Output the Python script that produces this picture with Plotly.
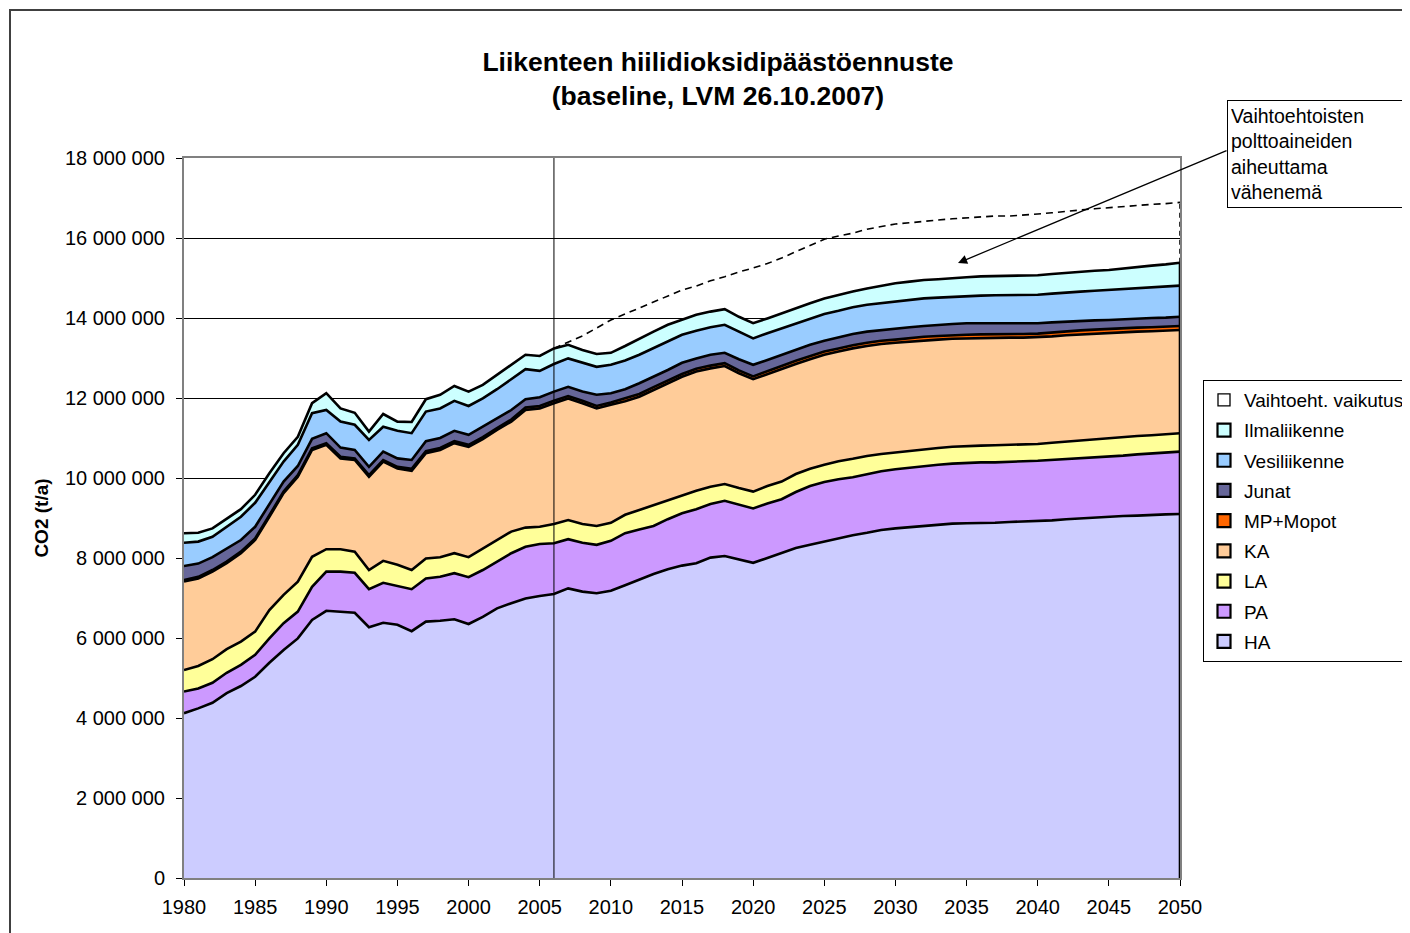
import numpy as np
import plotly.graph_objects as go

# ---------------- data (million tonnes CO2 per year) ----------------
years = list(range(1980, 2051))

HA = [4.12, 4.24, 4.38, 4.62, 4.80, 5.03, 5.38, 5.70, 5.99, 6.45,
      6.68, 6.66, 6.63, 6.27, 6.38, 6.33, 6.17, 6.41, 6.43, 6.47,
      6.35, 6.53, 6.74, 6.87, 6.99, 7.05, 7.10, 7.24, 7.16, 7.12,
      7.18, 7.32, 7.46, 7.60, 7.72, 7.81, 7.87, 8.01, 8.05, 7.96,
      7.88, 8.00, 8.12, 8.25, 8.33, 8.41, 8.50, 8.57, 8.63, 8.70,
      8.74, 8.77, 8.80, 8.83, 8.86, 8.87, 8.87, 8.88, 8.90, 8.91,
      8.92, 8.94, 8.97, 8.99, 9.02, 9.04, 9.05, 9.06, 9.08, 9.09, 9.10]

PA = [0.54, 0.50, 0.50, 0.51, 0.53, 0.55, 0.61, 0.67, 0.67, 0.83,
      0.98, 1.00, 1.00, 0.95, 1.00, 0.97, 1.05, 1.08, 1.10, 1.15,
      1.17, 1.17, 1.17, 1.25, 1.29, 1.30, 1.27, 1.23, 1.22, 1.21,
      1.25, 1.30, 1.25, 1.20, 1.25, 1.31, 1.35, 1.34, 1.38, 1.37,
      1.36, 1.36, 1.35, 1.40, 1.47, 1.49, 1.47, 1.45, 1.47, 1.47,
      1.48, 1.49, 1.50, 1.50, 1.50, 1.51, 1.52, 1.51, 1.51, 1.51,
      1.51, 1.51, 1.50, 1.50, 1.49, 1.49, 1.51, 1.53, 1.53, 1.55, 1.56]

LA = [0.54, 0.56, 0.59, 0.59, 0.58, 0.58, 0.71, 0.71, 0.75, 0.75,
      0.56, 0.56, 0.53, 0.48, 0.55, 0.53, 0.48, 0.50, 0.49, 0.50,
      0.50, 0.54, 0.54, 0.54, 0.48, 0.43, 0.48, 0.48, 0.47, 0.47,
      0.45, 0.46, 0.49, 0.52, 0.48, 0.45, 0.46, 0.43, 0.42, 0.42,
      0.42, 0.44, 0.44, 0.45, 0.43, 0.43, 0.45, 0.46, 0.45, 0.43,
      0.42, 0.42, 0.42, 0.42, 0.42, 0.42, 0.42, 0.43, 0.42, 0.42,
      0.42, 0.43, 0.44, 0.45, 0.45, 0.46, 0.46, 0.46, 0.46, 0.46, 0.46]

KA = [2.21, 2.19, 2.19, 2.15, 2.21, 2.29, 2.33, 2.54, 2.62, 2.67,
      2.61, 2.27, 2.29, 2.33, 2.48, 2.41, 2.48, 2.63, 2.68, 2.75,
      2.76, 2.73, 2.75, 2.75, 2.94, 2.96, 3.02, 3.04, 3.02, 2.94,
      2.95, 2.84, 2.83, 2.88, 2.92, 2.96, 2.98, 2.96, 2.95, 2.87,
      2.81, 2.80, 2.81, 2.75, 2.74, 2.75, 2.74, 2.76, 2.75, 2.75,
      2.74, 2.73, 2.72, 2.71, 2.70, 2.69, 2.69, 2.68, 2.68, 2.67,
      2.67, 2.66, 2.66, 2.65, 2.65, 2.64, 2.62, 2.61, 2.60, 2.59, 2.58]

MP = [0.04] * 16 + [0.05] * 8 + [0.06] * 7 + [0.07] * 10 + [0.08] * 10 + [0.09] * 10 + [0.10] * 10

JUNAT = [0.35, 0.33, 0.32, 0.32, 0.29, 0.29, 0.26, 0.25, 0.23, 0.24,
         0.25, 0.23, 0.21, 0.21, 0.21, 0.21, 0.22, 0.25, 0.25, 0.26,
         0.25, 0.26, 0.24, 0.24, 0.21, 0.22, 0.23, 0.23, 0.23, 0.28,
         0.23, 0.23, 0.27, 0.26, 0.26, 0.28, 0.26, 0.27, 0.26, 0.28,
         0.29, 0.27, 0.28, 0.27, 0.28, 0.27, 0.28, 0.28, 0.28, 0.27,
         0.28, 0.27, 0.27, 0.28, 0.28, 0.29, 0.28, 0.28, 0.27, 0.27,
         0.26, 0.25, 0.24, 0.23, 0.23, 0.22, 0.23, 0.22, 0.23, 0.22, 0.23]

VESI = [0.58, 0.55, 0.51, 0.55, 0.58, 0.60, 0.58, 0.50, 0.53, 0.64,
        0.58, 0.65, 0.63, 0.67, 0.62, 0.69, 0.67, 0.74, 0.74, 0.75,
        0.72, 0.71, 0.73, 0.77, 0.75, 0.66, 0.69, 0.71, 0.72, 0.70,
        0.71, 0.72, 0.71, 0.71, 0.71, 0.70, 0.69, 0.69, 0.70, 0.69,
        0.66, 0.67, 0.66, 0.67, 0.66, 0.67, 0.66, 0.67, 0.67, 0.67,
        0.67, 0.68, 0.69, 0.68, 0.68, 0.68, 0.69, 0.70, 0.70, 0.71,
        0.71, 0.72, 0.73, 0.74, 0.74, 0.75, 0.75, 0.76, 0.76, 0.78, 0.78]

ILMA = [0.24, 0.22, 0.21, 0.21, 0.19, 0.20, 0.21, 0.21, 0.20, 0.25,
        0.42, 0.33, 0.30, 0.21, 0.32, 0.23, 0.28, 0.31, 0.34, 0.37,
        0.36, 0.34, 0.36, 0.36, 0.36, 0.37, 0.39, 0.34, 0.32, 0.32,
        0.30, 0.36, 0.41, 0.42, 0.42, 0.37, 0.40, 0.39, 0.39, 0.37,
        0.38, 0.37, 0.38, 0.37, 0.38, 0.39, 0.40, 0.39, 0.41, 0.43,
        0.46, 0.46, 0.46, 0.46, 0.47, 0.47, 0.48, 0.48, 0.49, 0.48,
        0.49, 0.49, 0.49, 0.50, 0.50, 0.50, 0.52, 0.54, 0.55, 0.55, 0.57]

# reduction caused by alternative fuels (from 2006 on)
VAIHT = [0.0] * 26 + [0.00, 0.07, 0.35, 0.65,
         0.82, 0.80, 0.76, 0.75, 0.73, 0.75, 0.72, 0.77, 0.81, 1.12,
         1.38, 1.37, 1.38, 1.41, 1.43, 1.48, 1.47, 1.46, 1.48, 1.48,
         1.48, 1.47, 1.47, 1.48, 1.48, 1.48, 1.49, 1.50, 1.49, 1.51,
         1.53, 1.53, 1.54, 1.54, 1.55, 1.56, 1.55, 1.54, 1.53, 1.52, 1.51]

UNIT = 1e6
DIVIDER_YEAR = 2006
DASH_START = 2006

series = [
    ("HA", HA, "#CCCCFF"),
    ("PA", PA, "#CC99FF"),
    ("LA", LA, "#FFFF99"),
    ("KA", KA, "#FFCC99"),
    ("MP+Mopot", MP, "#FF6600"),
    ("Junat", JUNAT, "#666699"),
    ("Vesiliikenne", VESI, "#99CCFF"),
    ("Ilmaliikenne", ILMA, "#CCFFFF"),
]

FONT = "Arial, Liberation Sans, sans-serif"

fig = go.Figure()
for name, vals, color in series:
    fig.add_trace(go.Scatter(
        x=years, y=[v * UNIT for v in vals], name=name,
        stackgroup="one", mode="lines",
        line=dict(color="black", width=2.6),
        fillcolor=color, showlegend=False,
    ))

total = np.sum([np.array(v) for _, v, _ in series], axis=0) * UNIT
with_alt = total + np.array(VAIHT) * UNIT
i0 = years.index(DASH_START)

fig.add_trace(go.Scatter(
    x=years[i0:], y=with_alt[i0:], name="Vaihtoeht. vaikutus", mode="lines",
    line=dict(color="black", width=1.6, dash="7px,5px"), showlegend=False,
))
# closing edges of the stacked polygon
fig.add_trace(go.Scatter(x=[years[-1], years[-1]], y=[0, total[-1]], mode="lines",
                         line=dict(color="black", width=2.6), showlegend=False, hoverinfo="skip"))
fig.add_trace(go.Scatter(x=[years[-1], years[-1]], y=[total[-1], with_alt[-1]], mode="lines",
                         line=dict(color="black", width=1.6, dash="5px,4px"), showlegend=False,
                         hoverinfo="skip"))

# legend entries (square swatches like the original), top entry first
fig.add_trace(go.Scatter(
    x=[None], y=[None], mode="markers", name="Vaihtoeht. vaikutus", legendgroup="vaiht",
    marker=dict(symbol="square-open", size=12, color="black", line=dict(width=1.3)),
))
for name, vals, color in reversed(series):
    fig.add_trace(go.Scatter(
        x=[None], y=[None], mode="markers", name=name, legendgroup=name,
        marker=dict(symbol="square", size=13, color=color, line=dict(color="black", width=2.2)),
    ))

# page body has an 8px margin -> figure coordinates = reference pixels - 8
OFF = 8
W, H = 1410 - OFF, 933 - OFF
L, T = 184 - OFF, 158 - OFF
R = W - (1180 - OFF)
B = H - (878 - OFF)
pw, ph = W - L - R, H - T - B


def px_x(x):
    return (x - OFF - L) / pw


def px_y(y):
    return (H - B - (y - OFF)) / ph


fig.update_layout(
    width=W, height=H,
    margin=dict(l=L, r=R, t=T, b=B, autoexpand=False),
    paper_bgcolor="white", plot_bgcolor="white",
    font=dict(family=FONT, size=20, color="black"),
    separators=". ",
    title=dict(
        text="<b>Liikenteen hiilidioksidipäästöennuste<br>(baseline, LVM 26.10.2007)</b>",
        x=(718 - OFF) / W, xref="container", xanchor="center",
        y=1 - (71 - OFF) / H, yref="container", yanchor="middle",
        font=dict(size=26.5, family=FONT),
    ),
    showlegend=True,
    legend=dict(
        x=(1203 - OFF) / W, xref="container", xanchor="left",
        y=1 - (380 - OFF) / H, yref="container", yanchor="top",
        traceorder="grouped", tracegroupgap=2.5,
        bgcolor="white", bordercolor="black", borderwidth=1,
        font=dict(size=19, family=FONT),
        itemwidth=30,
    ),
    xaxis=dict(
        range=[years[0], years[-1]],
        tickmode="array", tickvals=list(range(1980, 2051, 5)),
        ticks="outside", ticklen=6, tickcolor="black",
        ticklabelstandoff=4,
        showgrid=False, zeroline=False,
        showline=True, linecolor="#808080", linewidth=2, mirror=True,
        tickfont=dict(size=20),
    ),
    yaxis=dict(
        range=[0, 18e6], dtick=2e6, tickformat=",d",
        ticks="outside", ticklen=6, tickcolor="black",
        ticklabelstandoff=7,
        showgrid=True, gridcolor="black", gridwidth=1,
        zeroline=False,
        showline=True, linecolor="#808080", linewidth=2, mirror=True,
        tickfont=dict(size=20),
        title=dict(text="<b>CO2 (t/a)</b>", font=dict(size=19), standoff=11),
    ),
    shapes=[
        dict(type="line", xref="x", yref="paper", x0=DIVIDER_YEAR, x1=DIVIDER_YEAR, y0=0, y1=1,
             line=dict(color="black", width=1)),
        dict(type="rect", xref="paper", yref="paper",
             x0=px_x(10), x1=px_x(1440), y0=px_y(960), y1=px_y(10),
             line=dict(color="#404040", width=2), fillcolor="rgba(0,0,0,0)", layer="above"),
    ],
    annotations=[
        # text box
        dict(
            x=px_x(1227), y=px_y(100), xref="paper", yref="paper",
            xanchor="left", yanchor="top",
            text="Vaihtoehtoisten<br>polttoaineiden<br>aiheuttama<br>vähenemä",
            showarrow=False,
            align="left", width=171, height=100,
            bordercolor="black", borderwidth=1, borderpad=3, bgcolor="white",
            font=dict(size=19.5, family=FONT),
        ),
        # callout arrow
        dict(
            x=2034.4, y=15.375e6, xref="x", yref="y", text="",
            showarrow=True, arrowhead=2, arrowsize=1.4, arrowwidth=1.3, arrowcolor="black",
            ax=270, ay=-113,
        ),
    ],
)

fig.write_html("out.html")
